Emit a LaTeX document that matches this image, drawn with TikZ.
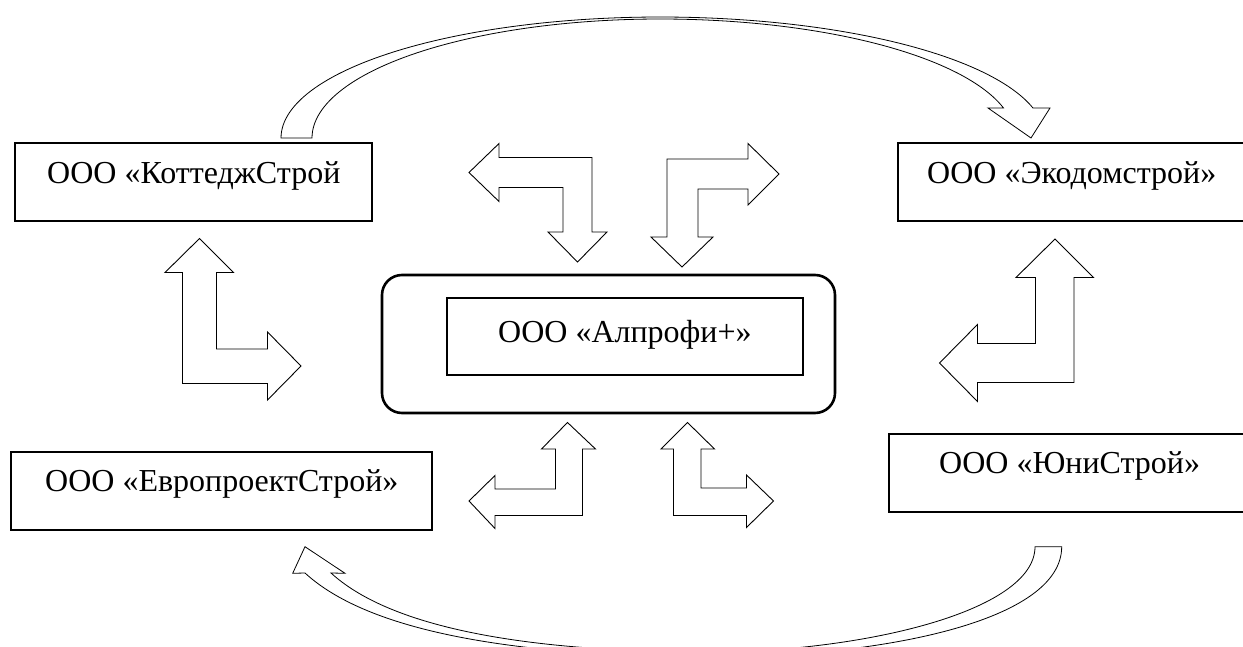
\documentclass[tikz,border=0pt]{standalone}
\usepackage{fontspec}
\setmainfont{Liberation Serif}
\begin{document}
\begin{tikzpicture}[x=1pt,y=-1pt,
  box/.style={draw, line width=1.3pt, inner sep=0pt, outer sep=0pt, anchor=north west},
  lbl/.style={anchor=base west, inner sep=0pt, font=\fontsize{32}{38}\selectfont},
  barrow/.style={draw, line width=0.9pt, line join=miter, fill=white}]
\useasboundingbox (0,0) rectangle (1243,647);
\clip (0,0) rectangle (1243,647);
\fill[white] (0,0) rectangle (1243,647);

% boxes
\node[box, minimum width=357pt, minimum height=78pt] (kott) at (15,143) {};
\node[box, minimum width=360pt, minimum height=78pt] (eko) at (898,143) {};
\node[box, minimum width=421pt, minimum height=78pt] (evro) at (11,452) {};
\node[box, minimum width=370pt, minimum height=78pt] (uni) at (889,434) {};
\node[draw, line width=2.6pt, rounded corners=20pt, inner sep=0pt, outer sep=0pt,
      minimum width=453pt, minimum height=138pt, anchor=north west] (outer) at (382,275) {};
\node[box, line width=1.1pt, minimum width=356pt, minimum height=77pt] (alp) at (447,298) {};

% labels
\node[lbl] (tkott) at (47,183.5) {ООО «КоттеджСтрой};
\node[lbl] (teko) at (927,183.5) {ООО «Экодомстрой»};
\node[lbl] (tevro) at (45,491.5) {ООО «ЕвропроектСтрой»};
\node[lbl] (tuni) at (939,473) {ООО «ЮниСтрой»};
\node[lbl] (talp) at (498,342) {ООО «Алпрофи+»};

% bent block arrows
\draw[barrow] (469,172.5) -- (499,143.5) -- (499,157.5) -- (592,157.5) -- (592,232)
  -- (607,232) -- (577.5,262) -- (548,232) -- (563,232) -- (563,187.5) -- (499,187.5)
  -- (499,201.5) -- cycle;
\draw[barrow] (779,174) -- (748,143.5) -- (748,159) -- (667,159) -- (667,237)
  -- (651,237) -- (682,267) -- (713,237) -- (698,237) -- (698,189) -- (748,189)
  -- (748,205) -- cycle;
\draw[barrow] (199.5,238.5) -- (233.5,272.5) -- (216.5,272.5) -- (216.5,349) -- (267.5,349)
  -- (267.5,332) -- (301,366) -- (267.5,400) -- (267.5,383.5) -- (182.5,383.5)
  -- (182.5,272.5) -- (165,272.5) -- cycle;
\draw[barrow] (1055,239) -- (1093.5,277.5) -- (1074,277.5) -- (1074,382.5) -- (977.5,382.5)
  -- (977.5,401.5) -- (939.5,363) -- (977.5,324.5) -- (977.5,343.5) -- (1035.5,343.5)
  -- (1035.5,277.5) -- (1016,277.5) -- cycle;
\draw[barrow] (567.5,422.5) -- (595.5,449) -- (582.5,449) -- (582.5,515.5) -- (495,515.5)
  -- (495,528.5) -- (469,501) -- (495,475.5) -- (495,489) -- (555.5,489) -- (555.5,449)
  -- (541.5,449) -- cycle;
\draw[barrow] (687.5,422.5) -- (714.5,449) -- (701,449) -- (701,488) -- (746.5,488)
  -- (746.5,475) -- (773.5,501) -- (746.5,527.5) -- (746.5,515.5) -- (673.5,515.5)
  -- (673.5,449) -- (661,449) -- cycle;

% top curved arrow
\draw[barrow, line width=0.8pt]
  plot[domain=180:270, samples=60] ({660+379*cos(\x)},{138+121*sin(\x)})
  -- plot[domain=270:345.6, samples=50] ({660+385*cos(\x)},{138+121*sin(\x)})
  -- (1050,108) -- (1031,138) -- (988,108)
  -- plot[domain=345.4:270, samples=50] ({660+355*cos(\x)},{138+119*sin(\x)})
  -- plot[domain=270:180, samples=60] ({660+348*cos(\x)},{138+119*sin(\x)})
  -- cycle;

% bottom curved arrow
\draw[barrow, line width=0.8pt]
  (1061.7,546.7) .. controls (1061.7,622) and (880,656) .. (720,657)
  .. controls (560,657) and (380,642) .. (305,573)
  -- (292.7,573.3) -- (305,546.7) -- (345,573.3) -- (331,573)
  .. controls (400,636) and (560,652) .. (710,652)
  .. controls (860,652) and (1035,612) .. (1035,546.7)
  -- cycle;
\end{tikzpicture}
\end{document}
